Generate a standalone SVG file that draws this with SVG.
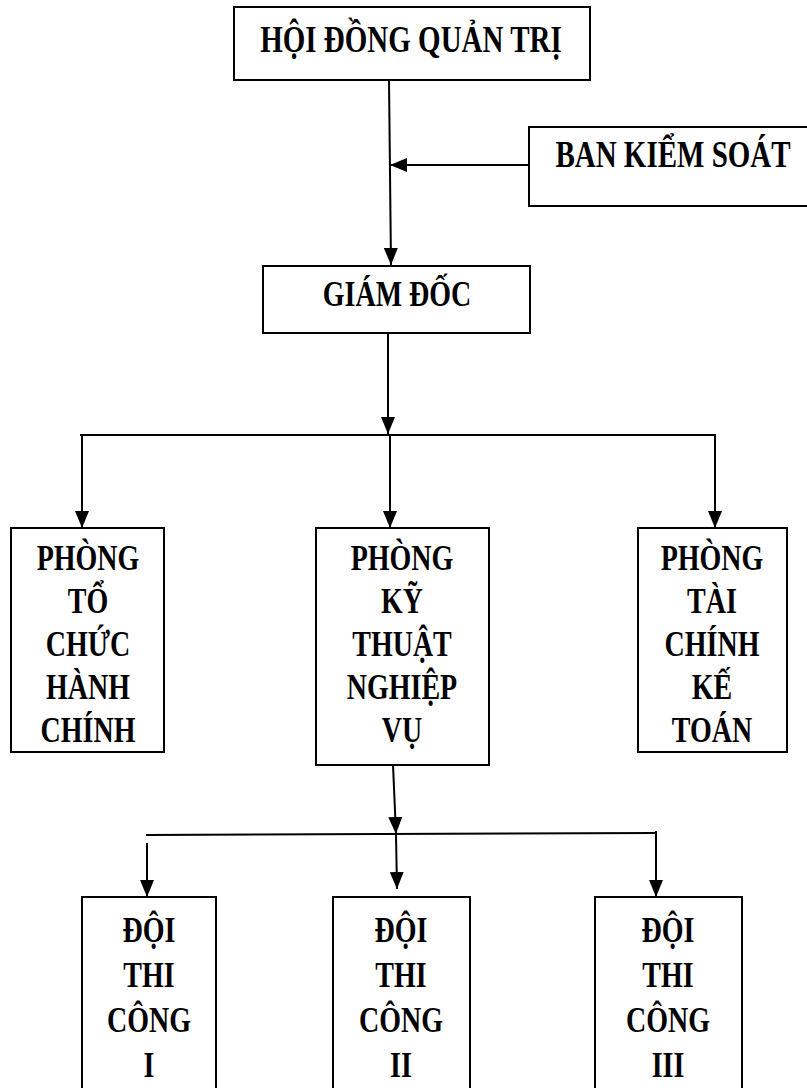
<svg xmlns="http://www.w3.org/2000/svg" width="807" height="1088" viewBox="0 0 807 1088">
<style>
  .box { fill: #ffffff; stroke: #000000; stroke-width: 2; }
  .lbl { font-family: "Liberation Serif", "Times New Roman", serif; font-weight: bold; font-size: 28px; fill: #000000; text-anchor: middle; }
  .big { font-size: 29px; }
  .ln { stroke: #000000; stroke-width: 2; fill: none; }
</style>
<defs>
  <marker id="arr" markerUnits="userSpaceOnUse" markerWidth="17" markerHeight="14" refX="17" refY="7" orient="auto">
    <path d="M0,0 L17,7 L0,14 z" fill="#000000"/>
  </marker>
</defs>
<rect width="807" height="1088" fill="#ffffff"/>
<g id="connectors">
  <line class="ln" x1="389" y1="80" x2="391" y2="265" marker-end="url(#arr)"/>
  <line class="ln" x1="529" y1="165" x2="390" y2="165" marker-end="url(#arr)"/>
  <line class="ln" x1="388" y1="333" x2="388" y2="434" marker-end="url(#arr)"/>
  <line class="ln" x1="80" y1="435" x2="716" y2="435"/>
  <line class="ln" x1="82" y1="435" x2="82" y2="528" marker-end="url(#arr)"/>
  <line class="ln" x1="390" y1="435" x2="390" y2="528" marker-end="url(#arr)"/>
  <line class="ln" x1="715" y1="435" x2="715" y2="528" marker-end="url(#arr)"/>
  <line class="ln" x1="393" y1="765" x2="396" y2="834" marker-end="url(#arr)"/>
  <line class="ln" x1="146" y1="835" x2="657" y2="833"/>
  <line class="ln" x1="147" y1="843" x2="147" y2="897" marker-end="url(#arr)"/>
  <line class="ln" x1="396" y1="835" x2="397" y2="889" marker-end="url(#arr)"/>
  <line class="ln" x1="656" y1="831" x2="656" y2="897" marker-end="url(#arr)"/>
</g>
<g id="hdqt">
  <rect class="box" x="234" y="7" width="356" height="73"/>
  <text class="lbl big" transform="translate(411,52) scale(1,1.3)">HỘI ĐỒNG QUẢN TRỊ</text>
</g>
<g id="bks">
  <rect class="box" x="529" y="127" width="290" height="79"/>
  <text class="lbl big" transform="translate(673,167) scale(1,1.3)">BAN KIỂM SOÁT</text>
</g>
<g id="gd">
  <rect class="box" x="263" y="266" width="267" height="67"/>
  <text class="lbl" transform="translate(397,306) scale(1,1.3)">GIÁM ĐỐC</text>
</g>
<g id="ptchc">
  <rect class="box" x="11" y="528" width="153" height="224"/>
  <text class="lbl" transform="translate(88,570) scale(1,1.3)">PHÒNG</text>
  <text class="lbl" transform="translate(88,613) scale(1,1.3)">TỔ</text>
  <text class="lbl" transform="translate(88,656) scale(1,1.3)">CHỨC</text>
  <text class="lbl" transform="translate(88,699) scale(1,1.3)">HÀNH</text>
  <text class="lbl" transform="translate(88,742) scale(1,1.3)">CHÍNH</text>
</g>
<g id="pktnv">
  <rect class="box" x="316" y="528" width="173" height="237"/>
  <text class="lbl" transform="translate(402,570) scale(1,1.3)">PHÒNG</text>
  <text class="lbl" transform="translate(402,613) scale(1,1.3)">KỸ</text>
  <text class="lbl" transform="translate(402,656) scale(1,1.3)">THUẬT</text>
  <text class="lbl" transform="translate(402,699) scale(1,1.3)">NGHIỆP</text>
  <text class="lbl" transform="translate(402,742) scale(1,1.3)">VỤ</text>
</g>
<g id="ptckt">
  <rect class="box" x="638" y="528" width="149" height="224"/>
  <text class="lbl" transform="translate(712,570) scale(1,1.3)">PHÒNG</text>
  <text class="lbl" transform="translate(712,613) scale(1,1.3)">TÀI</text>
  <text class="lbl" transform="translate(712,656) scale(1,1.3)">CHÍNH</text>
  <text class="lbl" transform="translate(712,699) scale(1,1.3)">KẾ</text>
  <text class="lbl" transform="translate(712,742) scale(1,1.3)">TOÁN</text>
</g>
<g id="dtc1">
  <rect class="box" x="82" y="897" width="134" height="210"/>
  <text class="lbl" transform="translate(149,942) scale(1,1.3)">ĐỘI</text>
  <text class="lbl" transform="translate(149,987) scale(1,1.3)">THI</text>
  <text class="lbl" transform="translate(149,1032) scale(1,1.3)">CÔNG</text>
  <text class="lbl" transform="translate(149,1077) scale(1,1.3)">I</text>
</g>
<g id="dtc2">
  <rect class="box" x="333" y="897" width="137" height="210"/>
  <text class="lbl" transform="translate(401,942) scale(1,1.3)">ĐỘI</text>
  <text class="lbl" transform="translate(401,987) scale(1,1.3)">THI</text>
  <text class="lbl" transform="translate(401,1032) scale(1,1.3)">CÔNG</text>
  <text class="lbl" transform="translate(401,1077) scale(1,1.3)">II</text>
</g>
<g id="dtc3">
  <rect class="box" x="595" y="897" width="147" height="210"/>
  <text class="lbl" transform="translate(668,942) scale(1,1.3)">ĐỘI</text>
  <text class="lbl" transform="translate(668,987) scale(1,1.3)">THI</text>
  <text class="lbl" transform="translate(668,1032) scale(1,1.3)">CÔNG</text>
  <text class="lbl" transform="translate(668,1077) scale(1,1.3)">III</text>
</g>
</svg>
